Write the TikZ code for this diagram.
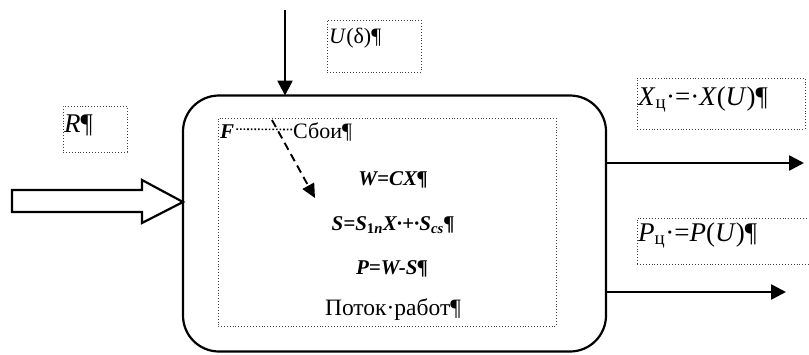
\documentclass[tikz,border=0pt]{standalone}
\usepackage{fontspec}
\setmainfont{Liberation Serif}
\usetikzlibrary{arrows.meta}
\tikzset{
  frame/.style={draw, line width=2.2pt, rounded corners=36pt, inner sep=0pt, outer sep=0pt},
  tbox/.style={draw=black!75, dotted, line width=0.9pt, inner sep=0pt, outer sep=0pt},
  arr/.style={line width=2.6pt, -{Triangle[length=15pt,width=15pt]}},
  darr/.style={dashed, dash pattern=on 8pt off 5pt, line width=1.9pt, -{Triangle[length=14pt,width=13pt]}},
  lbl/.style={inner sep=0pt, anchor=base west, font=\fontsize{27}{30}\selectfont},
  mid/.style={inner sep=0pt, anchor=base, font=\fontsize{21}{24}\selectfont},
}
\begin{document}
\begin{tikzpicture}[x=1pt,y=-1pt]
\useasboundingbox (0,0) rectangle (809,354);
% main rounded block and inner frame
\node[frame, minimum width=423pt, minimum height=256pt] (sys) at (394.5,223.5) {};
\node[tbox, minimum width=338pt, minimum height=208pt] (inner) at (387,222) {};
% text boxes
\node[tbox, minimum width=94pt, minimum height=52pt, anchor=north west] (ubox) at (327,20) {};
\node[lbl, font=\fontsize{22}{24}\selectfont] (ut) at (329,43) {\textit{U}(δ)¶};
\node[tbox, minimum width=64pt, minimum height=46pt, anchor=north west] (rbox) at (63,106) {};
\node[lbl] (rt) at (64,132) {\textit{R}¶};
\node[tbox, minimum width=168pt, minimum height=51pt, anchor=north west] (xbox) at (637,78) {};
\node[lbl] (xt) at (638,105) {\textit{X}\textsubscript{ц}·=·\textit{X}(\textit{U})¶};
\node[tbox, minimum width=172pt, minimum height=46pt, anchor=north west] (pbox) at (637,218) {};
\node[lbl] (pt) at (638,241) {\textit{P}\textsubscript{ц}·=\textit{P}(\textit{U})¶};
% input arrow U(delta)
\coordinate (utop) at (285,10);
\draw[arr] (utop) -- (utop |- sys.north);
% hollow input arrow R
\draw[line width=2.2pt, line join=miter] (12,190) -- (142,190) -- (142,180) -- (sys.west |- 0,202) -- (142,223) -- (142,212) -- (12,212) -- cycle;
% outputs
\coordinate (o1) at (804,163);
\coordinate (o2) at (786,292);
\draw[arr] (sys.east |- o1) -- (o1);
\draw[arr] (sys.east |- o2) -- (o2);
% inner content
\node[mid, anchor=base west] (f) at (220,138) {\textbf{\textit{F}}};
\node[mid, anchor=base west, font=\fontsize{22}{24}\selectfont] (sboi) at (293,138) {Сбои¶};
\draw[dotted, line width=1.6pt] ([xshift=2pt,yshift=2pt]f.east) -- ([xshift=-1pt,yshift=2pt]sboi.west);
\node[mid] (w) at (393,185) {\textbf{\textit{W=CX¶}}};
\node[mid] (s) at (393,230) {\textbf{\textit{S=S\textsubscript{\textup{1}n}X·+·S\textsubscript{cs}¶}}};
\node[mid] (p) at (392,274) {\textbf{\textit{P=W-S¶}}};
\node[mid, font=\fontsize{23.5}{26}\selectfont] (pr) at (393,315) {Поток·работ¶};
\coordinate (ds) at (272,120);
\coordinate (de) at (315,198);
\draw[darr] (ds) -- (de);
\end{tikzpicture}
\end{document}
